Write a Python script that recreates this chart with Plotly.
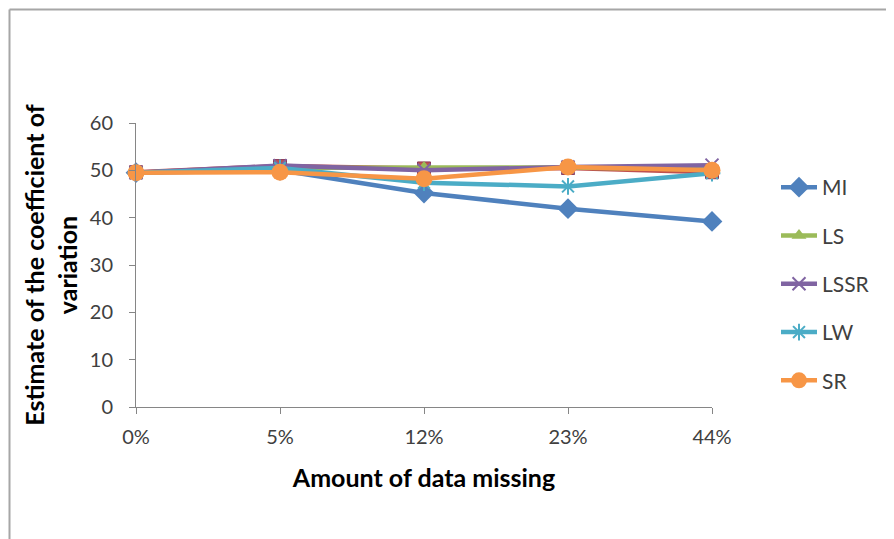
import plotly.graph_objects as go

categories = ["0%", "5%", "12%", "23%", "44%"]
mi = [49.5, 50.0, 45.2, 41.9, 39.2]
ls = [49.5, 50.5, 50.6, 50.6, 50.2]
hidden = [49.6, 50.9, 50.4, 50.5, 49.6]
lssr = [49.5, 51.0, 50.0, 50.7, 51.1]
lw = [49.5, 50.5, 47.4, 46.6, 49.4]
sr = [49.5, 49.6, 48.2, 50.7, 50.0]

y_ticks = [0, 10, 20, 30, 40, 50, 60]

W, H = 894, 539
OFF = 8  # page body margin
# target plot area in page pixels
PX0, PX1, PY0, PY1 = 136, 712, 123, 407
L, T = PX0 - OFF, PY0 - OFF
pw, ph = PX1 - PX0, PY1 - PY0
R, B = W - L - pw, H - T - ph

def px(x):
    return (x - PX0) / pw

def py(y):
    return (PY1 - y) / ph

fig = go.Figure()

def add(name, vals, color, symbol, size, mline=None, show=True, group=None):
    marker = dict(symbol=symbol, size=size, color=color)
    if mline:
        marker["line"] = mline
    fig.add_trace(go.Scatter(
        x=categories, y=vals, name=name, mode="lines+markers",
        line=dict(color=color, width=4.5), marker=marker,
        cliponaxis=False, showlegend=show, legendgroup=group or name,
    ))

add("MI", mi, "#4F81BD", "diamond", 16)
add("Series2", hidden, "#C0504D", "square", 13, mline=dict(color="#8B3A5A", width=1), show=False)
add("LS", ls, "#9BBB59", "triangle-up", 13)
add("LSSR", lssr, "#8064A2", "x-thin-open", 13, mline=dict(color="#8064A2", width=2))
add("LW", lw, "#4BACC6", "asterisk-open", 14, mline=dict(color="#4BACC6", width=2))
add("SR", sr, "#F79646", "circle", 17)

axis_color = "#868686"
fig.update_xaxes(
    type="category", range=[0, len(categories) - 1], automargin=False,
    showline=True, linecolor=axis_color, linewidth=1,
    ticks="outside", ticklen=6, tickcolor=axis_color, ticklabelstandoff=6,
    showgrid=False, zeroline=False,
    tickfont=dict(family="Lato", size=20, color="#404040"),
    title=dict(text="<b>Amount of data missing</b>", font=dict(family="Lato", size=25, color="#000000"), standoff=22),
)
fig.update_yaxes(
    range=[0, 60], tickvals=y_ticks, automargin=False,
    showline=True, linecolor=axis_color, linewidth=1,
    ticks="outside", ticklen=6, tickcolor=axis_color, ticklabelstandoff=12,
    showgrid=False, zeroline=False,
    tickfont=dict(family="Lato", size=20, color="#404040"),
    title=dict(text="<b>Estimate of the coefficient of<br>variation</b>", font=dict(family="Lato", size=25, color="#000000"), standoff=5),
)

border = dict(color="#A6A6A6", width=2)
bx, by = px(9.5), py(9.5)
fig.add_shape(type="line", xref="paper", yref="paper", x0=bx, x1=bx, y0=-1.0, y1=by, line=border)
fig.add_shape(type="line", xref="paper", yref="paper", x0=bx, x1=1.5, y0=by, y1=by, line=border)

fig.update_layout(
    width=W, height=H,
    margin=dict(l=L, r=R, t=T, b=B, autoexpand=False),
    paper_bgcolor="white", plot_bgcolor="white",
    legend=dict(
        x=px(776), xanchor="left", y=py(167), yanchor="top",
        font=dict(family="Lato", size=21, color="#404040"),
        itemwidth=36, tracegroupgap=18, bgcolor="rgba(0,0,0,0)",
    ),
)

fig.write_html("out.html")
